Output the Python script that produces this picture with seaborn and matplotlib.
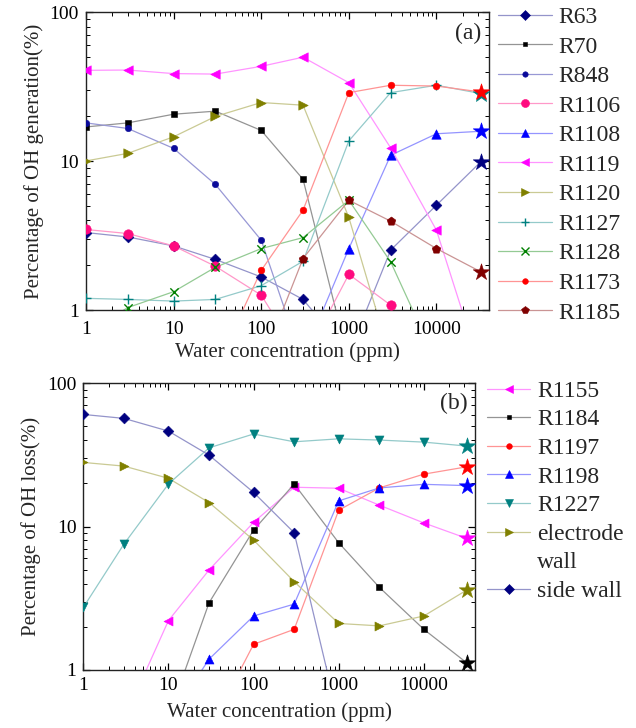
import numpy as np
import pandas as pd
import matplotlib
matplotlib.use("Agg")
import matplotlib.pyplot as plt
from matplotlib.lines import Line2D
from matplotlib.ticker import FuncFormatter, NullFormatter, LogLocator
from matplotlib.colors import to_rgb
import seaborn as sns

# Water concentration grid (ppm)
ppm = [1, 3, 10, 30, 100, 300, 1000, 3000, 10000, 32000]
nan = np.nan

# (a) Percentage of OH generation by reaction
r63 = [3.32, 3.10, 2.70, 2.19, 1.67, 1.18, 0.51, 2.53, 5.07, 9.9]
r70 = [17.0, 18.1, 20.7, 21.7, 16.1, 7.57, 0.45, nan, nan, nan]
r848 = [18.1, 16.6, 12.2, 6.98, 2.95, 0.44, nan, nan, nan, nan]
r1106 = [3.48, 3.27, 2.70, 1.97, 1.26, 0.45, 1.74, 1.08, 0.45, nan]
r1108 = [nan, nan, nan, nan, nan, 0.48, 2.59, 10.97, 15.3, 15.9]
r1119 = [40.8, 41.0, 38.8, 38.5, 43.4, 50.0, 33.7, 12.3, 3.44, 0.4]
r1120 = [10.05, 11.3, 14.6, 20.0, 24.8, 23.8, 4.19, 0.47, nan, nan]
r1127 = [1.2, 1.18, 1.15, 1.18, 1.46, 2.13, 13.7, 28.9, 32.4, 28.5]
r1128 = [0.7, 1.04, 1.33, 1.94, 2.59, 3.07, 5.47, 2.11, 0.45, nan]
r1173 = [nan, nan, nan, 0.4, 1.85, 4.69, 28.9, 32.4, 32.0, 29.2]
r1185 = [nan, nan, nan, nan, 0.43, 2.22, 5.47, 3.96, 2.59, 1.81]

# (b) Percentage of OH loss by channel
r1155 = [nan, 0.45, 2.21, 4.98, 10.7, 18.8, 18.5, 14.1, 10.6, 8.27]
r1184 = [nan, nan, 0.47, 2.94, 9.45, 19.8, 7.71, 3.77, 1.92, 1.12]
r1197 = [nan, nan, nan, 0.38, 1.51, 1.92, 13.0, 18.6, 23.2, 26.1]
r1198 = [nan, nan, 0.44, 1.19, 2.38, 2.88, 15.1, 18.6, 19.7, 19.3]
r1227 = [2.73, 7.55, 19.8, 35.4, 44.2, 39.0, 40.9, 40.1, 38.8, 36.4]
electrode_wall = [28.0, 26.4, 21.7, 14.7, 8.05, 4.13, 2.11, 2.03, 2.38, 3.61]
side_wall = [60.5, 56.8, 46.3, 31.5, 17.3, 9.05, 0.45, nan, nan, nan]

gen_names = ["R63", "R70", "R848", "R1106", "R1108", "R1119", "R1120",
             "R1127", "R1128", "R1173", "R1185"]
gen_values = [r63, r70, r848, r1106, r1108, r1119, r1120, r1127, r1128, r1173, r1185]
gen_star = ["R63", "R1108", "R1127", "R1173", "R1185"]

loss_names = ["R1155", "R1184", "R1197", "R1198", "R1227", "electrode", "side wall"]
loss_values = [r1155, r1184, r1197, r1198, r1227, electrode_wall, side_wall]
loss_star = ["R1155", "R1184", "R1197", "R1198", "R1227", "electrode"]

# marker colour, marker, marker size (pt)
styles = {
    "R63": ("#000080", "D", 5.5),
    "R70": ("#000000", "s", 4.2),
    "R848": ("#0a0a9a", "o", 4.6),
    "R1106": ("#ff0a7f", "o", 6.8),
    "R1108": ("#0000ff", "^", 6.8),
    "R1119": ("#ff00ff", "<", 6.8),
    "R1120": ("#808000", ">", 6.8),
    "R1127": ("#008080", "+", 6.5),
    "R1128": ("#008000", "x", 6.0),
    "R1173": ("#ff0000", "o", 4.8),
    "R1185": ("#800000", "p", 6.5),
    "R1155": ("#ff00ff", "<", 6.5),
    "R1184": ("#000000", "s", 4.2),
    "R1197": ("#ff0000", "o", 4.8),
    "R1198": ("#0000ff", "^", 6.5),
    "R1227": ("#008080", "v", 6.5),
    "electrode": ("#808000", ">", 6.5),
    "side wall": ("#000080", "D", 5.5),
}

sns.set_style("ticks")
plt.rcParams["font.family"] = ["Liberation Serif", "DejaVu Serif"]


def lighten(c, f=0.42):
    """Blend a colour towards white, keeping fraction f of it."""
    r, g, b = to_rgb(c)
    return (r + (1 - r) * (1 - f), g + (1 - g) * (1 - f), b + (1 - b) * (1 - f))


def draw_panel(ax, names, values, stars, tick_pad):
    ax.set_xscale("log")
    ax.set_yscale("log")
    frames = {}
    for name, vals in zip(names, values):
        df = pd.DataFrame({"ppm": ppm, "pct": vals}).dropna()
        frames[name] = df
        color = styles[name][0]
        sns.lineplot(data=df, x="ppm", y="pct", ax=ax, color=lighten(color),
                     lw=0.9, estimator=None, sort=False, legend=False, zorder=2)
    for name in names:
        df = frames[name]
        color, marker, ms = styles[name]
        pts = df.iloc[:-1] if name in stars else df
        if marker in ("+", "x"):
            sns.scatterplot(data=pts, x="ppm", y="pct", ax=ax, marker=marker,
                            s=ms ** 2, color=color, linewidth=1.0, legend=False, zorder=3)
        else:
            sns.scatterplot(data=pts, x="ppm", y="pct", ax=ax, marker=marker,
                            s=ms ** 2, color=color, edgecolor=color, linewidth=0.4,
                            legend=False, zorder=3)
        if name in stars:
            sns.scatterplot(data=df.iloc[[-1]], x="ppm", y="pct", ax=ax, marker="*",
                            s=12.5 ** 2, color=color, edgecolor=color, linewidth=0.4,
                            legend=False, zorder=4, clip_on=False)
    ax.set_xlim(1, 4e4)
    ax.set_ylim(1, 100)
    fmt = FuncFormatter(lambda v, p: f"{v:g}")
    ax.xaxis.set_major_formatter(fmt)
    ax.yaxis.set_major_formatter(fmt)
    ax.xaxis.set_minor_formatter(NullFormatter())
    ax.yaxis.set_minor_formatter(NullFormatter())
    ax.xaxis.set_minor_locator(LogLocator(base=10, subs=np.arange(2, 10), numticks=20))
    ax.yaxis.set_minor_locator(LogLocator(base=10, subs=np.arange(2, 10), numticks=20))
    ax.tick_params(which="both", direction="in", top=True, right=True,
                   labelsize=14, colors="black")
    ax.tick_params(axis="x", which="both", pad=tick_pad)
    ax.tick_params(axis="y", which="both", pad=5)
    ax.tick_params(which="major", length=5, width=0.9)
    ax.tick_params(which="minor", length=2.8, width=0.7)
    for sp in ax.spines.values():
        sp.set_color("#222222")
        sp.set_linewidth(1.0)


def legend_handle(name):
    color, marker, ms = styles[name]
    return Line2D([], [], color=lighten(color), lw=0.9, marker=marker,
                  ms=ms * 0.85, mfc=color, mec=color, mew=1.0 if marker in "+x" else 0.4)


fig = plt.figure(figsize=(6.36, 7.28), dpi=100)
ax_a = fig.add_axes([0.1352, 0.574, 0.634, 0.409])
ax_b = fig.add_axes([0.131, 0.0797, 0.616, 0.394])

draw_panel(ax_a, gen_names, gen_values, gen_star, tick_pad=8)
ax_a.set_xlabel("Water concentration (ppm)", fontsize=15, labelpad=3)
ax_a.set_ylabel("Percentage of OH generation(%)", fontsize=15, labelpad=4)
ax_a.text(0.948, 0.93, "(a)", transform=ax_a.transAxes, fontsize=17,
          ha="center", va="center")
ax_a.legend(handles=[legend_handle(n) for n in gen_names], labels=gen_names,
            loc="upper left", bbox_to_anchor=(1.022, 1.02), frameon=False,
            handlelength=2.29, handletextpad=0.25, labelspacing=0.34,
            borderpad=0, borderaxespad=0, fontsize=17)

draw_panel(ax_b, loss_names, loss_values, loss_star, tick_pad=5)
ax_b.set_xlabel("Water concentration (ppm)", fontsize=15, labelpad=6)
ax_b.set_ylabel("Percentage of OH loss(%)", fontsize=15, labelpad=4)
ax_b.text(0.946, 0.93, "(b)", transform=ax_b.transAxes, fontsize=17,
          ha="center", va="center")
b_handles = []
b_labels = []
for n in loss_names:
    b_handles.append(legend_handle(n))
    b_labels.append(n)
    if n == "electrode":
        b_handles.append(Line2D([], [], lw=0, color="none"))
        b_labels.append("wall")
ax_b.legend(handles=b_handles, labels=b_labels,
            loc="upper left", bbox_to_anchor=(1.031, 1.01), frameon=False,
            handlelength=1.82, handletextpad=0.3, labelspacing=0.30,
            borderpad=0, borderaxespad=0, fontsize=17)

fig.savefig("out.png", dpi=100)
